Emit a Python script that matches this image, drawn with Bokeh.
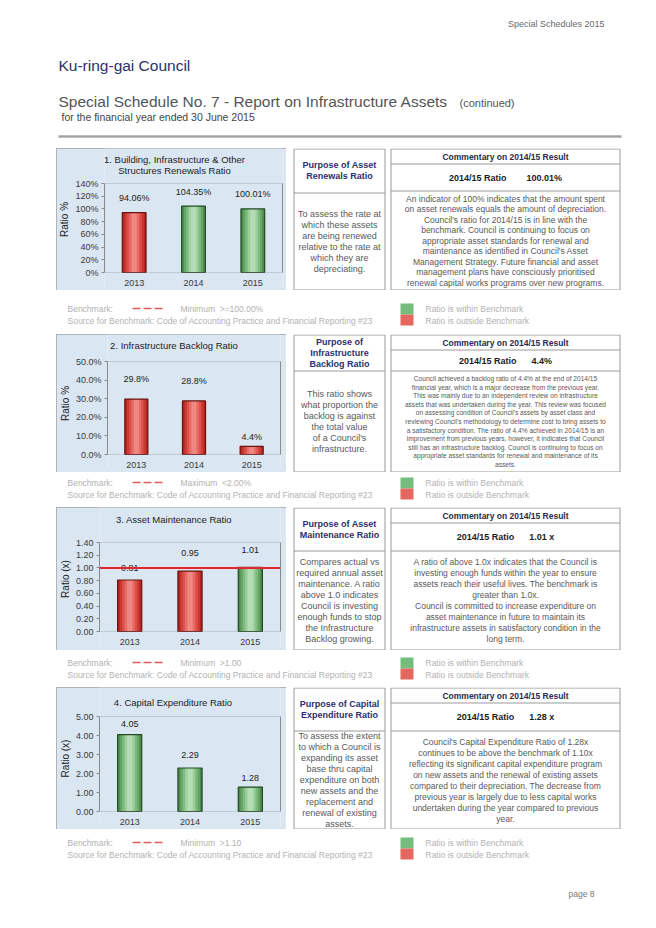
from bokeh.plotting import figure
from bokeh.models import (Range1d, FactorRange, Spacer, Span, BoxAnnotation,
                          FixedTicker, PrintfTickFormatter, LinearAxis)
from bokeh.layouts import column, row
from bokeh.embed import file_html
from bokeh.resources import INLINE
from bokeh.core.properties import value

# ---------------- data ----------------
years = ["2013", "2014", "2015"]
renewals_ratio = [94.06, 104.35, 100.01]
backlog_ratio = [29.8, 28.8, 4.4]
maintenance_ratio = [0.81, 0.95, 1.01]
capex_ratio = [4.05, 2.29, 1.28]
renewals_within = [False, True, True]
backlog_within = [False, False, False]
maintenance_within = [False, False, True]
capex_within = [True, True, True]
maintenance_benchmark = 1.00
renewals_ticks = [0, 20, 40, 60, 80, 100, 120, 140]
backlog_ticks = [0, 10, 20, 30, 40, 50]
maintenance_ticks = [0.0, 0.2, 0.4, 0.6, 0.8, 1.0, 1.2, 1.4]
capex_ticks = [0, 1, 2, 3, 4, 5]
benchmark_texts = ["Minimum\u00a0\u00a0>=100.00%", "Maximum\u00a0\u00a0<2.00%",
                   "Minimum\u00a0\u00a0>1.00", "Minimum\u00a0\u00a0>1.10"]

# ---------------- styles ----------------
FONT = "Liberation Sans"
NAVY = "#2b3070"
BODY = "#595959"
LIGHT = "#b2b2b2"
BOX = "#9a9a9a"
CHART_BG = "#dae6f2"
RED_STEPS = ["#b3261f", "#cc3a33", "#dc524b", "#e86c65", "#ef8882"]
GREEN_STEPS = ["#4b8a4b", "#64a464", "#7fbb7f", "#9bcf9b", "#b5ddb5"]
RED_EDGE = "#6a1410"
GREEN_EDGE = "#234a23"
AX = "#8a8a8a"

# right-hand boxes (page x)
P_L, P_R = 293, 384
C_L, C_R = 390, 619


def canvas(x0, x1, y0, y1):
    p = figure(width=x1 - x0, height=y1 - y0, x_range=Range1d(x0, x1),
               y_range=Range1d(y1, y0), x_axis_type=None, y_axis_type=None,
               output_backend="svg", toolbar_location=None, min_border=0,
               title=None)
    p.outline_line_color = None
    p.grid.visible = False
    p.background_fill_color = "white"
    p.border_fill_color = "white"
    return p


def put(p, xs, ys, texts, size, color, align="left", style="normal"):
    p.text(x=xs, y=ys, text=texts, text_font=value(FONT),
           text_font_size=value(size), text_color=color, text_align=align,
           text_baseline="middle", text_font_style=style)


def bar_chart(vals, within, ticks, tick_fmt, labels, ylabel, title_lines,
              title_rel, H, bl, br, ft, fb, t_off, lab_off, bench=None):
    lo, hi = ticks[0], ticks[-1]
    upp = (hi - lo) / (fb - ft)
    y_start = lo - (H - fb) * upp
    y_end = hi + ft * upp
    p = figure(width=230, height=H, x_range=FactorRange(*years),
               y_range=Range1d(y_start, y_end), output_backend="svg",
               toolbar_location=None, title=None, x_axis_location=None,
               min_border_left=bl, min_border_right=br,
               min_border_top=0, min_border_bottom=0)
    p.background_fill_color = CHART_BG
    p.border_fill_color = CHART_BG
    p.outline_line_color = None
    p.styles = {"outline": "1px solid #a3a3a3", "outline-offset": "-1px"}
    p.xgrid.visible = False
    p.ygrid.visible = False
    # plot-area top / bottom lines
    p.add_layout(BoxAnnotation(bottom=lo, top=hi, fill_color=None,
                               line_color=AX, line_width=1))
    yax = p.yaxis[0]
    yax.ticker = FixedTicker(ticks=ticks)
    yax.formatter = PrintfTickFormatter(format=tick_fmt)
    yax.bounds = (lo, hi)
    yax.axis_label = ylabel
    yax.axis_label_text_font = FONT
    yax.axis_label_text_font_size = "10px"
    yax.axis_label_text_font_style = "normal"
    yax.axis_label_text_color = "#222222"
    yax.axis_label_standoff = 2
    yax.major_label_standoff = 3
    yax.major_tick_out = 3
    yax.major_tick_in = 0
    yax.minor_tick_out = 0
    yax.minor_tick_in = 0
    yax.major_label_text_font = FONT
    yax.major_label_text_font_size = "9px"
    yax.major_label_text_color = "#3a3a3a"
    yax.axis_line_color = AX
    yax.major_tick_line_color = AX
    # right edge of the plot area
    rax = LinearAxis(ticker=FixedTicker(ticks=[]), bounds=(lo, hi),
                     axis_line_color=AX, major_tick_line_color=None,
                     minor_tick_line_color=None, major_label_standoff=0,
                     major_tick_out=0, minor_tick_out=0)
    p.add_layout(rax, "right")

    bw = 0.4
    for k, f in enumerate([1.0, 0.82, 0.62, 0.42, 0.22]):
        cols = [GREEN_STEPS[k] if w else RED_STEPS[k] for w in within]
        p.vbar(x=years, top=vals, bottom=lo, width=bw * f, fill_color=cols,
               line_color=None)
    edges = [GREEN_EDGE if w else RED_EDGE for w in within]
    p.vbar(x=years, top=vals, bottom=lo, width=bw, fill_color=None,
           line_color=edges, line_width=1.2)
    if bench is not None:
        p.add_layout(Span(location=bench, dimension="width",
                          line_color="#e3262b", line_width=2))
    p.text(x=years, y=vals, text=labels, y_offset=lab_off, text_align="center",
           text_baseline="middle", text_font=value(FONT),
           text_font_size=value("9px"), text_color="#1c1c1c")
    # category labels under the plot area
    p.text(x=years, y=[lo] * len(years), text=years, y_offset=10,
           text_align="center", text_baseline="middle", text_font=value(FONT),
           text_font_size=value("9px"), text_color="#3a3a3a")
    # chart title
    mid = years[len(years) // 2]
    p.text(x=[mid] * len(title_lines), y=[hi] * len(title_lines), text=title_lines,
           x_offset=t_off, y_offset=[r - ft for r in title_rel],
           text_align="center", text_baseline="middle", text_font=value(FONT),
           text_font_size=value("9.5px"), text_color="#1c1c1c")
    return p


def right_panel(top, bot, hdiv, c1, c2, phead, pbody, cbody, csize, clh,
                ratio_str):
    p = canvas(286, 656, top, bot)
    p.quad(left=[P_L + .5, C_L + .5], right=[P_R + .5, C_R + .5], top=[top + 0.5] * 2,
           bottom=[bot - 0.5] * 2, fill_color=None, line_color=BOX)
    p.segment(x0=[P_L + .5, C_L + .5, C_L + .5], x1=[P_R + .5, C_R + .5, C_R + .5],
              y0=[top + hdiv + .5, top + c1 + .5, top + c2 + .5],
              y1=[top + hdiv + .5, top + c1 + .5, top + c2 + .5], line_color=BOX)
    pc, cc = (P_L + P_R) / 2 + .5, (C_L + C_R) / 2 + .5
    hc = top + hdiv / 2
    n = len(phead)
    put(p, [pc] * n, [hc + (i - (n - 1) / 2) * 11 for i in range(n)], phead,
        "9px", NAVY, "center", "bold")
    bc = (top + hdiv + bot) / 2
    n = len(pbody)
    put(p, [pc] * n, [bc + (i - (n - 1) / 2) * 11 for i in range(n)], pbody,
        "9px", BODY, "center")
    put(p, [cc], [top + c1 / 2 + 0.5], ["Commentary on 2014/15 Result"],
        "8.5px", "#2a2a4a", "center", "bold")
    put(p, [cc], [top + (c1 + c2) / 2 + 0.5], [ratio_str], "9px", "#1c1c1c",
        "center", "bold")
    bc = (top + c2 + bot) / 2
    n = len(cbody)
    put(p, [cc] * n, [bc + (i - (n - 1) / 2) * clh for i in range(n)], cbody,
        csize, BODY, "center")
    return p


def bench_panel(y0, y1, by, btxt, page=False):
    p = canvas(0, 656, y0, y1)
    put(p, [67], [by], ["Benchmark:"], "8.5px", LIGHT)
    p.segment(x0=[132], x1=[165], y0=[by], y1=[by], line_color="#e05a5a",
              line_width=1.5, line_dash="8 3")
    put(p, [180], [by], [btxt], "8.5px", LIGHT)
    put(p, [67], [by + 12],
        ["Source for Benchmark: Code of Accounting Practice and Financial Reporting #23"],
        "8.5px", LIGHT)
    p.quad(left=[400, 400], right=[413, 413], top=[by - 5, by + 6],
           bottom=[by + 6, by + 17], fill_color=["#74bd7c", "#e6675f"],
           line_color=None)
    put(p, [425, 425], [by, by + 12],
        ["Ratio is within Benchmark", "Ratio is outside Benchmark"], "8.5px", LIGHT)
    if page:
        put(p, [594], [893], ["page 8"], "8.5px", "#777777", "right")
    return p


# ---------------- header ----------------
header = canvas(0, 656, 0, 148)
put(header, [604], [23], ["Special Schedules 2015"], "9px", "#6a6a6a", "right")
put(header, [58], [65], ["Ku-ring-gai Council"], "15.5px", NAVY)
put(header, [58], [101], ["Special Schedule No. 7 - Report on Infrastructure Assets"],
    "15.5px", "#555555")
put(header, [459], [102], ["(continued)"], "11px", "#555555")
put(header, [61], [116], ["for the financial year ended 30 June 2015"], "10.5px", "#444444")
header.segment(x0=[58], x1=[C_R + 2], y0=[136], y1=[136], line_color="#a5a5a5", line_width=2.5)

# ---------------- charts ----------------
c1 = bar_chart(renewals_ratio, renewals_within, renewals_ticks, "%d%%",
               [f"{v:.2f}%" for v in renewals_ratio], "Ratio %",
               ["1. Building, Infrastructure & Other", "Structures Renewals Ratio"],
               [11, 22], 142, 42, 4, 35, 124, -19, [-15, -14, -15])
c2 = bar_chart(backlog_ratio, backlog_within, backlog_ticks, "%.1f%%",
               [f"{v:.1f}%" for v in backlog_ratio], "Ratio %",
               ["2. Infrastructure Backlog Ratio"],
               [11], 138, 45, 6, 27, 120, -20, [-20, -20, -9])
c3 = bar_chart(maintenance_ratio, maintenance_within, maintenance_ticks, "%.2f",
               [f"{v:.2f}" for v in maintenance_ratio], "Ratio (x)",
               ["3. Asset Maintenance Ratio"],
               [12], 143, 37, 6, 35, 124, -16, [-12, -18, -17],
               bench=maintenance_benchmark)
c4 = bar_chart(capex_ratio, capex_within, capex_ticks, "%.2f",
               [f"{v:.2f}" for v in capex_ratio], "Ratio (x)",
               ["4. Capital Expenditure Ratio"],
               [15], 142, 41, 6, 29, 124, -17, [-11, -13, -9])

NB = "\u00a0"
r1 = right_panel(148, 290, 44, 15, 42,
                 ["Purpose of Asset", "Renewals Ratio"],
                 ["To assess the rate at", "which these assets", "are being renewed",
                  "relative to the rate at", "which they are", "depreciating."],
                 ["An indicator of 100% indicates that the amount spent",
                  "on asset renewals equals the amount of depreciation.",
                  "Council's ratio for 2014/15 is in line with the",
                  "benchmark. Council is continuing to focus on",
                  "appropriate asset standards for renewal and",
                  "maintenance as identified in Council's Asset",
                  "Management Strategy. Future financial and asset",
                  "management plans have consciously prioritised",
                  "renewal capital works programs over new programs."],
                 "8.5px", 10.5, "2014/15 Ratio" + NB * 8 + f"{renewals_ratio[-1]:.2f}%")
r2 = right_panel(334, 472, 36, 15, 36,
                 ["Purpose of", "Infrastructure", "Backlog Ratio"],
                 ["This ratio shows", "what proportion the", "backlog is against",
                  "the total value", "of a Council's", "infrastructure."],
                 ["Council achieved a backlog ratio of 4.4% at the end of 2014/15",
                  "financial year, which is a major decrease from the previous year.",
                  "This was mainly due to an independent review on infrastructure",
                  "assets that was undertaken during the year. This review was focused",
                  "on assessing condition of Council's assets by asset class and",
                  "reviewing Council's methodology to determine cost to bring assets to",
                  "a satisfactory condition. The ratio of 4.4% achieved in 2014/15 is an",
                  "improvement from previous years, however, it indicates that Council",
                  "still has an infrastructure backlog. Council is continuing to focus on",
                  "appropriate asset standards for renewal and maintenance of its",
                  "assets."],
                 "6.6px", 8.6, "2014/15 Ratio" + NB * 6 + f"{backlog_ratio[-1]:.1f}%")
r3 = right_panel(507, 650, 43, 15, 43,
                 ["Purpose of Asset", "Maintenance Ratio"],
                 ["Compares actual vs", "required annual asset", "maintenance. A ratio",
                  "above 1.0 indicates", "Council is investing", "enough funds to stop",
                  "the Infrastructure", "Backlog growing."],
                 ["A ratio of above 1.0x indicates that the Council is",
                  "investing enough funds within the year to ensure",
                  "assets reach their useful lives. The benchmark is",
                  "greater than 1.0x.",
                  "Council is committed to increase expenditure on",
                  "asset maintenance in future to maintain its",
                  "infrastructure assets in satisfactory condition in the",
                  "long term."],
                 "8.5px", 10.9, "2014/15 Ratio" + NB * 6 + f"{maintenance_ratio[-1]:.2f} x")
r4 = right_panel(687, 829, 43, 15, 43,
                 ["Purpose of Capital", "Expenditure Ratio"],
                 ["To assess the extent", "to which a Council is", "expanding its asset",
                  "base thru capital", "expenditure on both", "new assets and the",
                  "replacement and", "renewal of existing", "assets."],
                 ["Council's Capital Expenditure Ratio of 1.28x",
                  "continues to be above the benchmark of 1.10x",
                  "reflecting its significant capital expenditure program",
                  "on new assets and the renewal of existing assets",
                  "compared to their depreciation. The decrease from",
                  "previous year is largely due to less capital works",
                  "undertaken during the year compared to previous",
                  "year."],
                 "8.5px", 11, "2014/15 Ratio" + NB * 6 + f"{capex_ratio[-1]:.2f} x")

b1 = bench_panel(290, 334, 308, benchmark_texts[0])
b2 = bench_panel(472, 507, 482, benchmark_texts[1])
b3 = bench_panel(650, 687, 662, benchmark_texts[2])
b4 = bench_panel(829, 928, 842, benchmark_texts[3], page=True)

layout = column(
    header,
    row(Spacer(width=56, height=142), c1, r1),
    b1,
    row(Spacer(width=56, height=138), c2, r2),
    b2,
    row(Spacer(width=56, height=143), c3, r3),
    b3,
    row(Spacer(width=56, height=142), c4, r4),
    b4,
)

open("out.html", "w").write(file_html(layout, INLINE))
